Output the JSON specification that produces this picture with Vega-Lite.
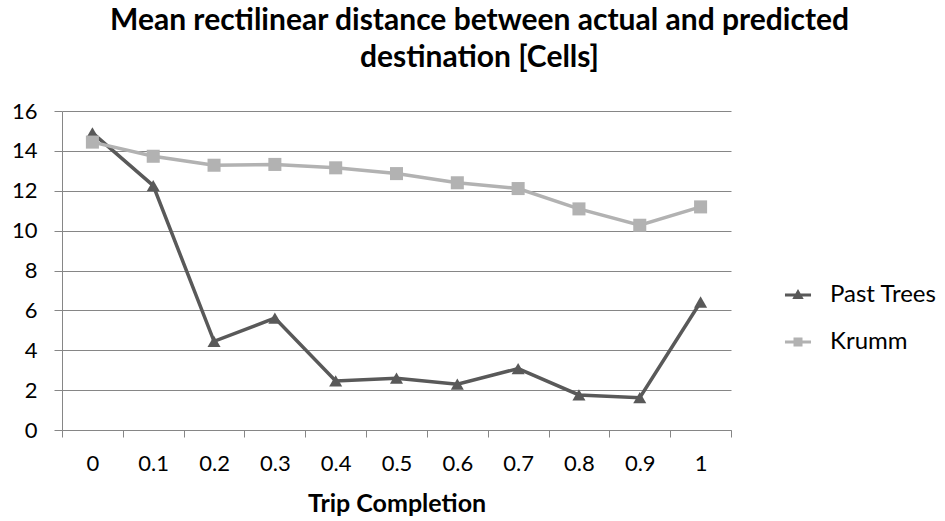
{
  "$schema": "https://vega.github.io/schema/vega-lite/v6.json",
  "autosize": {"type": "none"},
  "width": 669,
  "height": 319,
  "padding": {"left": 62, "top": 111, "right": 214, "bottom": 91},
  "background": "white",
  "config": {
    "font": "Lato",
    "view": {"stroke": null},
    "axis": {
      "labelFont": "Lato",
      "labelFontSize": 22,
      "labelColor": "#000000",
      "domainColor": "#868686",
      "tickColor": "#868686",
      "gridColor": "#868686",
      "gridWidth": 1,
      "domainWidth": 1,
      "tickWidth": 1
    }
  },
  "title": {
    "text": ["Mean rectilinear distance between actual and predicted", "destination [Cells]"],
    "anchor": "middle",
    "frame": "group",
    "dx": 83,
    "font": "Lato",
    "fontSize": 30,
    "fontWeight": "bold",
    "color": "#000000",
    "lineHeight": 37,
    "baseline": "alphabetic",
    "offset": 3
  },
  "data": {
    "values": [
      {"t": 0.0, "series": "Past Trees", "v": 14.9},
      {"t": 0.1, "series": "Past Trees", "v": 12.26},
      {"t": 0.2, "series": "Past Trees", "v": 4.45},
      {"t": 0.3, "series": "Past Trees", "v": 5.61},
      {"t": 0.4, "series": "Past Trees", "v": 2.46},
      {"t": 0.5, "series": "Past Trees", "v": 2.6},
      {"t": 0.6, "series": "Past Trees", "v": 2.3},
      {"t": 0.7, "series": "Past Trees", "v": 3.08},
      {"t": 0.8, "series": "Past Trees", "v": 1.76},
      {"t": 0.9, "series": "Past Trees", "v": 1.62},
      {"t": 1.0, "series": "Past Trees", "v": 6.42},
      {"t": 0.0, "series": "Krumm", "v": 14.44},
      {"t": 0.1, "series": "Krumm", "v": 13.73},
      {"t": 0.2, "series": "Krumm", "v": 13.28},
      {"t": 0.3, "series": "Krumm", "v": 13.32},
      {"t": 0.4, "series": "Krumm", "v": 13.15},
      {"t": 0.5, "series": "Krumm", "v": 12.86},
      {"t": 0.6, "series": "Krumm", "v": 12.4},
      {"t": 0.7, "series": "Krumm", "v": 12.11},
      {"t": 0.8, "series": "Krumm", "v": 11.09},
      {"t": 0.9, "series": "Krumm", "v": 10.27},
      {"t": 1.0, "series": "Krumm", "v": 11.19}
    ]
  },
  "encoding": {
    "x": {
      "field": "t",
      "type": "quantitative",
      "scale": {"domain": [-0.05, 1.05], "nice": false, "zero": false},
      "axis": {
        "title": "Trip Completion",
        "titleFont": "Lato",
        "titleFontSize": 25,
        "titleFontWeight": "bold",
        "titleColor": "#000000",
        "titlePadding": 17,
        "values": [-0.05, 0.05, 0.15, 0.25, 0.35, 0.45, 0.55, 0.65, 0.75, 0.85, 0.95, 1.05],
        "labelExpr": "datum.value > 1 ? '' : format(datum.value + 0.05, '.1~f')",
        "labelOffset": 30.4,
        "labelPadding": 16,
        "labelFlush": false,
        "labelOverlap": false,
        "tickSize": 7,
        "grid": false
      }
    },
    "y": {
      "field": "v",
      "type": "quantitative",
      "scale": {"domain": [0, 16], "nice": false},
      "axis": {
        "title": null,
        "values": [0, 2, 4, 6, 8, 10, 12, 14, 16],
        "tickSize": 8,
        "labelPadding": 17,
        "grid": true
      }
    }
  },
  "layer": [
    {
      "mark": {"type": "line", "strokeWidth": 3.5},
      "encoding": {
        "color": {
          "field": "series",
          "type": "nominal",
          "sort": ["Past Trees", "Krumm"],
          "scale": {"domain": ["Past Trees", "Krumm"], "range": ["#595959", "#b2b2b2"]},
          "legend": {
            "title": null,
            "orient": "none",
            "legendX": 724,
            "legendY": 172,
            "labelFont": "Lato",
            "labelFontSize": 24,
            "labelColor": "#000000",
            "symbolSize": 144,
            "symbolStrokeWidth": 3,
            "labelOffset": 20,
            "rowPadding": 23,
            "encode": {
              "symbols": {
                "update": {
                  "shape": {"signal": "datum.value == 'Krumm' ? 'M-2.17,0H2.17M-0.5,-0.5H0.5V0.5H-0.5Z' : 'M-2.17,0H2.17M-0.52,0.42L0,-0.5L0.52,0.42Z'"},
                  "fill": {"signal": "datum.value == 'Krumm' ? '#b2b2b2' : '#595959'"},
                  "stroke": {"signal": "datum.value == 'Krumm' ? '#b2b2b2' : '#595959'"},
                  "strokeWidth": {"value": 3},
                  "opacity": {"value": 1},
                  "fillOpacity": {"value": 1}
                }
              }
            }
          }
        }
      }
    },
    {
      "transform": [{"filter": "datum.series == 'Past Trees'"}],
      "mark": {"type": "point", "filled": true, "opacity": 1, "size": 170, "shape": "triangle-up", "color": "#595959"}
    },
    {
      "transform": [{"filter": "datum.series == 'Krumm'"}],
      "mark": {"type": "point", "filled": true, "opacity": 1, "size": 170, "shape": "square", "color": "#b2b2b2"}
    }
  ]
}
